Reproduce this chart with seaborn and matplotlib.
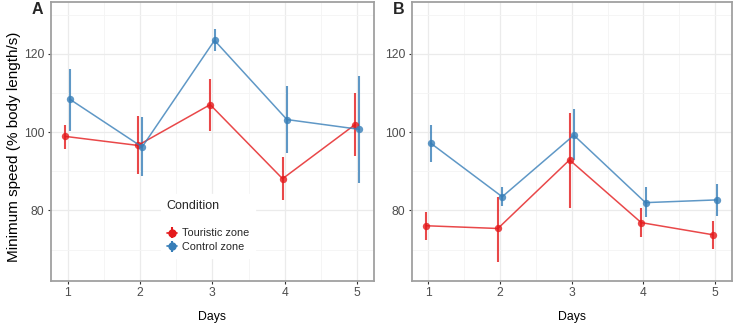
import numpy as np
import pandas as pd
import matplotlib
matplotlib.use("Agg")
import matplotlib.pyplot as plt
import seaborn as sns
from matplotlib.ticker import FixedLocator

days = [1, 2, 3, 4, 5]
conditions = ["Touristic zone", "Control zone"]
colors = ["#E41A1C", "#377EB8"]

# Panel A
a_tour_mean = [98.9, 96.6, 107.0, 88.1, 101.9]
a_tour_lo = [95.8, 89.2, 100.3, 82.6, 93.8]
a_tour_hi = [101.9, 104.1, 113.6, 93.6, 110.0]
a_ctrl_mean = [108.4, 96.2, 123.4, 103.2, 100.7]
a_ctrl_lo = [100.4, 88.7, 120.7, 94.6, 87.0]
a_ctrl_hi = [116.0, 103.8, 126.2, 111.7, 114.4]

# Panel B
b_tour_mean = [76.1, 75.4, 92.9, 76.9, 73.8]
b_tour_lo = [72.5, 66.8, 80.7, 73.2, 70.2]
b_tour_hi = [79.7, 83.4, 104.9, 80.7, 77.4]
b_ctrl_mean = [97.2, 83.5, 99.2, 82.0, 82.7]
b_ctrl_lo = [92.4, 81.2, 92.9, 78.3, 78.7]
b_ctrl_hi = [101.9, 86.0, 105.8, 85.9, 86.8]

panels = {
    "A": [(a_tour_mean, a_tour_lo, a_tour_hi), (a_ctrl_mean, a_ctrl_lo, a_ctrl_hi)],
    "B": [(b_tour_mean, b_tour_lo, b_tour_hi), (b_ctrl_mean, b_ctrl_lo, b_ctrl_hi)],
}

sns.set_theme(style="white")
plt.rcParams["font.family"] = ["Liberation Sans", "DejaVu Sans"]

fig = plt.figure(figsize=(7.37, 3.24), dpi=100)
W, H = 737, 324
axA = fig.add_axes([50.7 / W, 1 - 281 / H, (374 - 50.7) / W, (281 - 2) / H])
axB = fig.add_axes([411.7 / W, 1 - 281 / H, (731.7 - 411.7) / W, (281 - 2) / H])

dodge = 0.03
for label, ax in [("A", axA), ("B", axB)]:
    rows = []
    for ci, (cond, (m, lo, hi)) in enumerate(zip(conditions, panels[label])):
        off = -dodge if ci == 0 else dodge
        for d, mv, l, h in zip(days, m, lo, hi):
            rows.append(dict(x=d + off, y=mv, lo=l, hi=h, Condition=cond))
    df = pd.DataFrame(rows)
    for ci, cond in enumerate(conditions):
        sub = df[df.Condition == cond]
        ax.vlines(sub.x, sub.lo, sub.hi, color=colors[ci], lw=1.5, alpha=0.8, zorder=3)
    sns.lineplot(data=df, x="x", y="y", hue="Condition", hue_order=conditions,
                 palette=colors, marker="o", markersize=5.3, markeredgewidth=0,
                 linewidth=1.1, alpha=0.8, ax=ax, legend=False, zorder=4, sort=True)
    ax.set_xlim(0.767, 5.233)
    ax.set_ylim(62, 133.2)
    ax.xaxis.set_major_locator(FixedLocator(days))
    ax.xaxis.set_minor_locator(FixedLocator([1.5, 2.5, 3.5, 4.5]))
    ax.yaxis.set_major_locator(FixedLocator([80, 100, 120]))
    ax.yaxis.set_minor_locator(FixedLocator([70, 90, 110, 130]))
    ax.grid(True, which="major", color="#EBEBEB", lw=0.9)
    ax.grid(True, which="minor", color="#F4F4F4", lw=0.6)
    ax.set_axisbelow(True)
    for s in ax.spines.values():
        s.set_color("#A0A0A0")
        s.set_linewidth(1.3)
    ax.tick_params(axis="both", which="major", length=2.5, width=0.8, color="#333333",
                   labelsize=8.7, labelcolor="#4D4D4D", pad=2, bottom=True, left=True)
    ax.tick_params(which="minor", length=0)
    ax.set_xlabel("Days", fontsize=8.8, color="black")
    ax.xaxis.set_label_coords(0.5, -0.107)
    ax.set_ylabel("")

axA.set_ylabel("Minimum speed (% body length/s)", fontsize=11, color="black")
axA.yaxis.set_label_coords(-0.093, 0.48)
fig.text(37.5 / W, 1 - 9.5 / H, "A", fontsize=11.5, fontweight="bold", va="center", ha="center")
fig.text(398.7 / W, 1 - 9.5 / H, "B", fontsize=11.5, fontweight="bold", va="center", ha="center")

handles = []
for ci, cond in enumerate(conditions):
    h = axA.errorbar([], [], yerr=[], color=colors[ci], marker="o", markersize=5,
                     lw=1.2, elinewidth=1.5, capsize=0, label=cond)
    handles.append(h)
leg = axA.legend(handles=handles, labels=conditions, title="Condition",
                 loc="upper left",
                 bbox_to_anchor=((156 - 50.7) / (374 - 50.7), 1 - (189 - 2) / 279),
                 frameon=True, fancybox=False, edgecolor="white", facecolor="white",
                 framealpha=1, fontsize=7.8, title_fontsize=9, handlelength=0.9,
                 handletextpad=0.5, labelspacing=0.35, borderpad=0.5,
                 alignment="left")
leg._legend_box.sep = 12

fig.savefig("out.png", dpi=100)
